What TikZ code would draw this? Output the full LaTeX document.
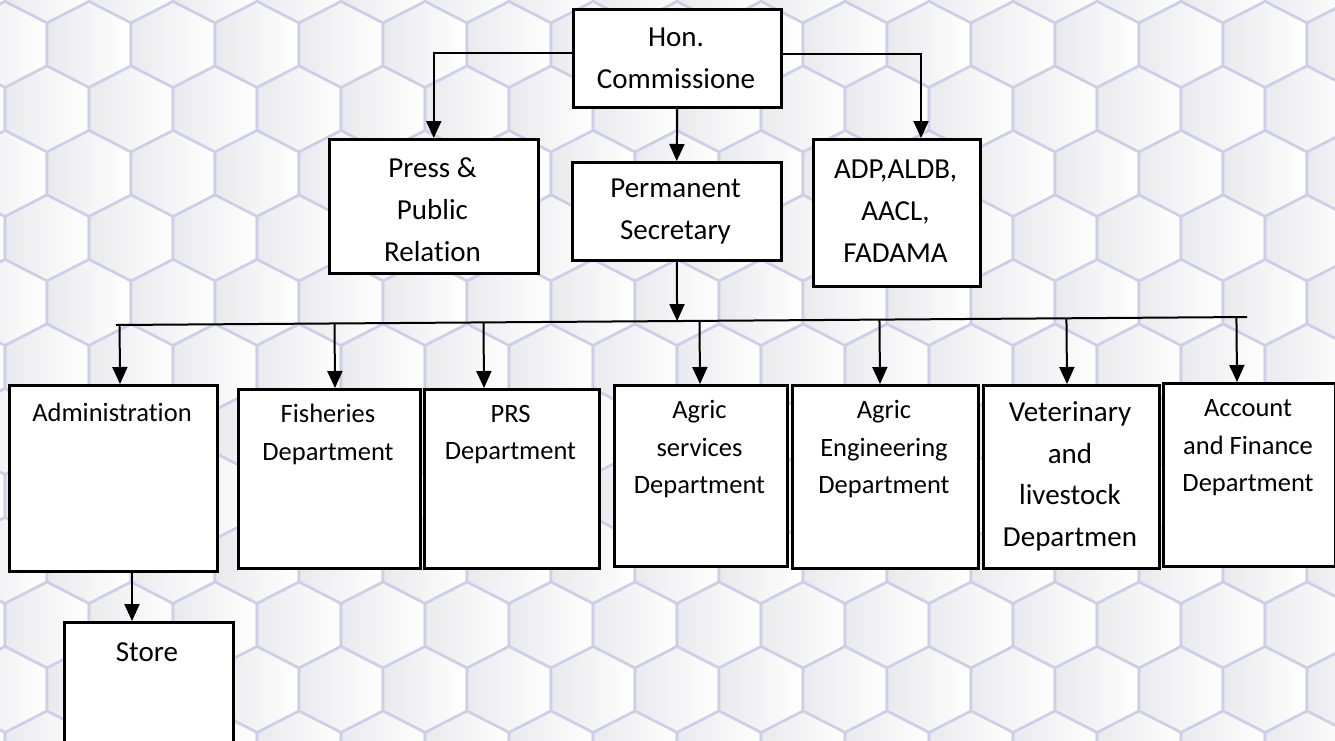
\documentclass[tikz,border=0pt]{standalone}
\usepackage{fontspec}
\setmainfont[Ligatures=NoCommon]{Carlito}
\usetikzlibrary{arrows.meta,calc}
\definecolor{hexedge}{RGB}{206,206,232}
\definecolor{hexshade}{RGB}{234,234,237}
\tikzset{
  orgbox/.style={draw=black, line width=2.5pt, fill=white, inner sep=0pt, anchor=north west},
  bigtxt/.style={font=\fontsize{29}{42}\selectfont, align=center, inner sep=0pt},
  smalltxt/.style={font=\fontsize{26.5}{37.5}\selectfont, align=center, inner sep=0pt},
  vettxt/.style={font=\fontsize{29}{41.5}\selectfont, align=center, inner sep=0pt},
  conn/.style={draw=black, line width=2pt},
  arr/.style={conn, -{Triangle[width=15pt,length=17pt]}},
  hexcell/.style={draw=hexedge, line width=2.6pt, left color=hexshade, right color=white},
}
\begin{document}
\begin{tikzpicture}[x=1pt,y=-1pt]
\useasboundingbox (0,0) rectangle (1335,740);
% background hexagon pattern
\begin{scope}
\clip (0,0) rectangle (1335,740);
\fill[white] (0,0) rectangle (1335,740);
\foreach \j in {0,...,12} {
  \foreach \i in {-1,...,16} {
    \pgfmathsetmacro\cx{5+84*\i+42-42*mod(\j,2)}
    \pgfmathsetmacro\cy{-20+64.5*\j}
    \path[hexcell] (\cx,\cy-43) -- (\cx+42,\cy-21.5) -- (\cx+42,\cy+21.5) -- (\cx,\cy+43) -- (\cx-42,\cy+21.5) -- (\cx-42,\cy-21.5) -- cycle;
  }
}
\end{scope}
% boxes
\node[orgbox, minimum width=208pt, minimum height=98pt]  (hon)   at (572,8) {};
\node[orgbox, minimum width=209pt, minimum height=134pt] (press) at (328,138) {};
\node[orgbox, minimum width=209pt, minimum height=98pt]  (ps)    at (571,161) {};
\node[orgbox, minimum width=167pt, minimum height=147pt] (adp)   at (812,138) {};
\node[orgbox, minimum width=208pt, minimum height=186pt] (adm)   at (8,384) {};
\node[orgbox, minimum width=182pt, minimum height=179pt] (fish)  at (237,388) {};
\node[orgbox, minimum width=175pt, minimum height=179pt] (prs)   at (423,388) {};
\node[orgbox, minimum width=173pt, minimum height=181pt] (agsv)  at (613,384) {};
\node[orgbox, minimum width=186pt, minimum height=183pt] (ageng) at (791,384) {};
\node[orgbox, minimum width=176pt, minimum height=183pt] (vet)   at (982,384) {};
\node[orgbox, minimum width=172pt, minimum height=183pt] (acc)   at (1162,382) {};
\node[orgbox, minimum width=169pt, minimum height=130pt] (store) at (63,621) {};
% texts
\node[bigtxt]   (hon-t)   at (676,58.5)  {Hon.\\Commissione};
\node[bigtxt]   (press-t) at (432.5,210) {Press \&\\Public\\Relation};
\node[bigtxt]   (ps-t)    at (675.5,212) {Permanent\\Secretary};
\node[bigtxt]   (adp-t)   at (895.5,211) {ADP,ALDB,\\AACL,\\FADAMA};
\node[smalltxt] (adm-t)   at (112,412)   {Administration};
\node[smalltxt] (fish-t)  at (328,434.5) {Fisheries\\Department};
\node[smalltxt] (prs-t)   at (510.5,434.5) {PRS\\Department};
\node[smalltxt] (agsv-t)  at (699.5,449.5) {Agric\\services\\Department};
\node[smalltxt] (ageng-t) at (884,449.5)  {Agric\\Engineering\\Department};
\node[vettxt]   (vet-t)   at (1070,476.5) {Veterinary\\and\\livestock\\Departmen};
\node[smalltxt] (acc-t)   at (1248,448)   {Account\\and Finance\\Department};
\node[bigtxt]   (store-t) at (147,652)    {Store};
% connectors
\coordinate (adp-in) at ($(adp.north west)+(109,0)$);
\draw[arr] ([yshift=5pt]hon.west) -| (press.north);
\draw[arr] ([yshift=4pt]hon.east) -| (adp-in);
\draw[arr] (hon.south) -- (ps.north);
\coordinate (barL) at (116,325);
\coordinate (barR) at (1247,317);
\draw[conn] (barL) -- (barR);
\draw[arr] (ps.south) -- ($(barL)!(ps.south)!(barR)$);
\coordinate (adm-in)   at ($(adm.north west)+(112,0)$);
\coordinate (fish-in)  at ($(fish.north west)+(98,0)$);
\coordinate (prs-in)   at ($(prs.north west)+(61,0)$);
\coordinate (agsv-in)  at ($(agsv.north west)+(87,0)$);
\coordinate (ageng-in) at ($(ageng.north west)+(89,0)$);
\coordinate (vet-in)   at ($(vet.north west)+(85,0)$);
\coordinate (acc-in)   at ($(acc.north west)+(75,0)$);
\foreach \n in {adm,fish,prs,agsv,ageng,vet,acc}
  \draw[arr] ($(barL)!(\n-in)!(barR)$) -- (\n-in);
\coordinate (store-in) at ($(store.north west)+(69,0)$);
\draw[arr] (adm.south -| store-in) -- (store-in);
\end{tikzpicture}
\end{document}
